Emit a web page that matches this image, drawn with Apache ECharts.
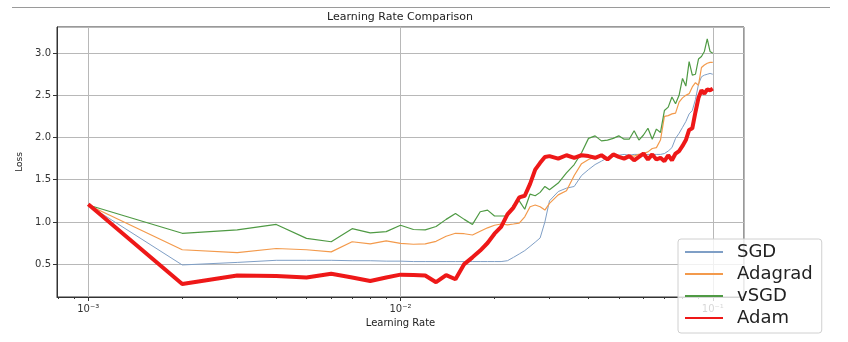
<!DOCTYPE html>
<html>
<head>
<meta charset="utf-8">
<script src="https://cdn.jsdelivr.net/npm/echarts@6/dist/echarts.min.js"></script>
<style>
html,body{margin:0;padding:0;background:#ffffff;}
#chart{width:848px;height:342px;}
</style>
</head>
<body>
<div id="chart"></div>
<script>
const learningRates = [0.001,0.002,0.003,0.004,0.005,0.006,0.007,0.008,0.009,0.010,
  0.011,0.012,0.013,0.014,0.015,0.016,0.017,0.018,0.019,0.020,
  0.021,0.022,0.023,0.024,0.025,0.026,0.027,0.028,0.029,0.030,
  0.032,0.034,0.036,0.038,0.040,0.042,0.044,0.046,0.048,0.050,
  0.052,0.054,0.056,0.058,0.060,0.062,0.064,0.066,0.068,0.070,
  0.072,0.074,0.076,0.078,0.080,0.082,0.084,0.086,0.088,0.090,
  0.092,0.094,0.096,0.098,0.100];

const sgdLoss = [1.20,0.49,0.52,0.545,0.545,0.545,0.54,0.54,0.535,0.535,
  0.53,0.53,0.53,0.53,0.53,0.53,0.53,0.53,0.53,0.53,
  0.53,0.54,0.58,0.62,0.66,0.71,0.76,0.81,1.00,1.25,
  1.36,1.40,1.42,1.55,1.62,1.68,1.72,1.76,1.79,1.79,
  1.80,1.79,1.80,1.80,1.79,1.80,1.80,1.80,1.80,1.81,
  1.84,1.88,1.99,2.05,2.12,2.19,2.28,2.32,2.45,2.63,
  2.72,2.74,2.75,2.76,2.75];

const adagradLoss = [1.20,0.67,0.635,0.685,0.67,0.645,0.765,0.74,0.775,0.745,
  0.735,0.74,0.77,0.83,0.865,0.86,0.845,0.89,0.93,0.96,
  0.975,0.965,0.975,0.985,1.06,1.18,1.20,1.18,1.14,1.22,
  1.32,1.37,1.55,1.69,1.74,1.77,1.78,1.76,1.78,1.78,
  1.77,1.79,1.78,1.80,1.81,1.83,1.87,1.88,1.97,2.25,
  2.26,2.28,2.29,2.42,2.47,2.50,2.52,2.60,2.65,2.62,
  2.83,2.86,2.88,2.89,2.89];

const vsgdLoss = [1.20,0.865,0.905,0.97,0.805,0.765,0.92,0.87,0.885,0.96,
  0.91,0.905,0.945,1.03,1.10,1.03,0.97,1.12,1.14,1.07,
  1.07,1.07,1.20,1.25,1.15,1.33,1.31,1.35,1.42,1.38,
  1.46,1.58,1.68,1.82,1.99,2.02,1.96,1.97,1.99,2.02,
  1.98,1.98,2.08,1.97,2.03,2.11,1.98,2.10,2.06,2.32,
  2.36,2.48,2.40,2.50,2.70,2.61,2.90,2.74,2.75,2.93,
  2.96,3.02,3.17,3.02,3.00];

const adamLoss = [1.21,0.263,0.365,0.358,0.342,0.385,0.342,0.30,0.342,0.375,
  0.37,0.365,0.285,0.37,0.32,0.50,0.58,0.66,0.75,0.86,
  0.94,1.09,1.17,1.29,1.31,1.45,1.62,1.70,1.77,1.78,
  1.75,1.79,1.76,1.79,1.78,1.76,1.79,1.74,1.80,1.77,
  1.75,1.78,1.73,1.77,1.81,1.74,1.80,1.74,1.76,1.72,
  1.79,1.73,1.81,1.84,1.90,1.97,2.09,2.11,2.30,2.47,
  2.56,2.52,2.57,2.56,2.58];

const seriesNames = ['SGD','Adagrad','vSGD','Adam'];
const majorTicks = [0.001, 0.01, 0.1];
const minorTicks = [0.0008,0.0009,0.002,0.003,0.004,0.005,0.006,0.007,0.008,0.009,
  0.02,0.03,0.04,0.05,0.06,0.07,0.08,0.09];
const tickLabels = {'-3':'10⁻³','-2':'10⁻²','-1':'10⁻¹'};

const FONT = 'DejaVu Sans';
const xMin = Math.pow(10, -3.1), xMax = Math.pow(10, -0.9);

function pairs(ys){ return learningRates.map((x,i)=>[x, ys[i]]); }

const chart = echarts.init(document.getElementById('chart'), null, {renderer:'canvas'});
const colors = ['#7f9fc6','#f39a4c','#4f9a44','#ee1818'];
const widths = [1, 1.2, 1.2, 4];
const values = [sgdLoss, adagradLoss, vsgdLoss, adamLoss];

chart.setOption({
  backgroundColor: '#ffffff',
  animation: false,
  title: {
    text: 'Learning Rate Comparison',
    left: 400, top: 12, padding: 0, textAlign: 'center',
    textStyle: {fontFamily: FONT, fontSize: 11, fontWeight: 'normal', color: '#222'}
  },
  graphic: [{
    type: 'line', shape: {x1: 12, y1: 7.5, x2: 830, y2: 7.5},
    style: {stroke: '#9a9a9a', lineWidth: 1}, silent: true
  }],
  grid: {left: 57, right: 104, top: 27, bottom: 45, show: true,
    borderColor: '#333', borderWidth: 1, backgroundColor: 'transparent'},
  legend: {
    orient: 'vertical', left: 678, top: 239,
    itemWidth: 38, itemHeight: 14, itemGap: 4,
    padding: [4, 9, 6, 6],
    backgroundColor: 'rgba(255,255,255,0.8)',
    borderColor: '#d0d0d0', borderWidth: 1, borderRadius: 3,
    itemStyle: {opacity: 0},
    textStyle: {fontFamily: FONT, fontSize: 18, color: '#222', padding: [0,0,0,9]},
    data: seriesNames
  },
  xAxis: [{
    type: 'log', logBase: 10, min: xMin, max: xMax,
    name: 'Learning Rate', nameLocation: 'middle', nameGap: 21,
    nameTextStyle: {fontFamily: FONT, fontSize: 10, color: '#222'},
    axisLine: {show: true, lineStyle: {color: '#333', width: 1}},
    axisTick: {show: false},
    axisLabel: {
      fontFamily: FONT, fontSize: 10, color: '#333', margin: 7,
      showMinLabel: false, showMaxLabel: false,
      formatter: function(v){
        const e = Math.log10(v);
        const r = Math.round(e);
        if (Math.abs(e - r) > 1e-6) return '';
        return tickLabels[String(r)] || '';
      }
    },
    splitLine: {show: true, lineStyle: {color: '#b8b8b8', width: 1}}
  },{
    type: 'log', logBase: 10, min: xMin, max: xMax, position: 'bottom', offset: 0,
    axisLine: {show: false},
    axisTick: {show: true, length: 4, customValues: majorTicks, lineStyle: {color: '#333'}},
    axisLabel: {show: false},
    splitLine: {show: false}
  },{
    type: 'log', logBase: 10, min: xMin, max: xMax, position: 'bottom', offset: 0,
    axisLine: {show: false},
    axisTick: {show: true, length: 2, customValues: minorTicks, lineStyle: {color: '#333'}},
    axisLabel: {show: false},
    splitLine: {show: false}
  }],
  yAxis: {
    type: 'value', min: 0.11, max: 3.31,
    name: 'Loss', nameLocation: 'middle', nameGap: 30,
    nameTextStyle: {fontFamily: FONT, fontSize: 9, color: '#222'},
    axisLine: {show: true, lineStyle: {color: '#333'}},
    axisTick: {show: true, length: 4, lineStyle: {color: '#333'}},
    axisLabel: {fontFamily: FONT, fontSize: 10, color: '#333', margin: 6,
      showMinLabel: false, showMaxLabel: false,
      formatter: v => v.toFixed(1)},
    splitLine: {show: true, lineStyle: {color: '#b8b8b8', width: 1}}
  },
  series: seriesNames.map((n, i) => ({
    name: n, type: 'line', xAxisIndex: 0, data: pairs(values[i]),
    symbol: 'none', smooth: false,
    lineStyle: {color: colors[i], width: widths[i]},
    itemStyle: {color: colors[i]},
    z: 2 + i
  }))
});
</script>
</body>
</html>
